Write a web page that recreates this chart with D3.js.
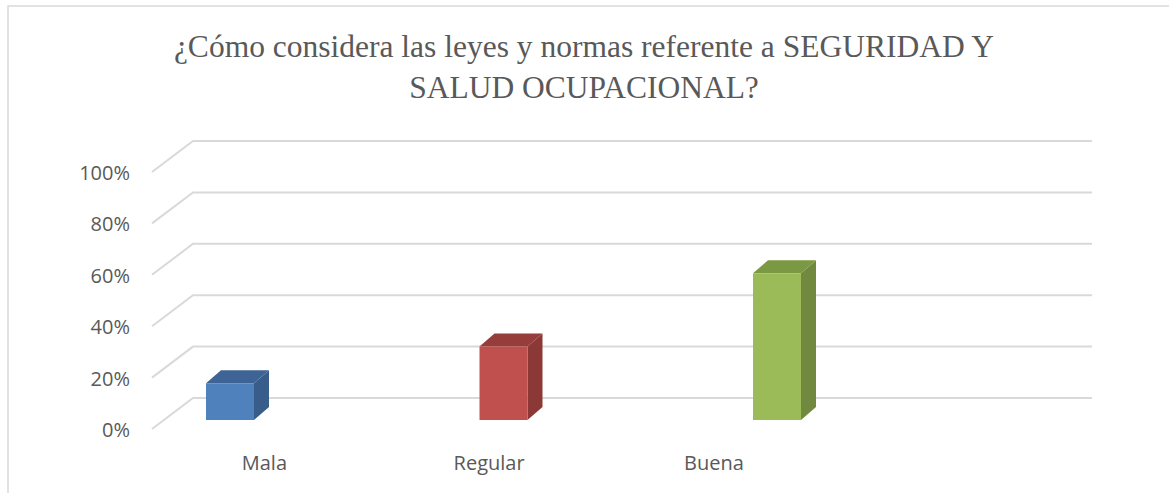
<!DOCTYPE html>
<html>
<head>
<meta charset="utf-8">
<script src="https://cdn.jsdelivr.net/npm/d3@7"></script>
<style>
  html, body { margin: 0; padding: 0; background: #fff; }
  svg { display: block; }
</style>
</head>
<body>
<div id="chart"></div>
<script>
// datos del gráfico
const categories = ['Mala', 'Regular', 'Buena'];
const values = [0.143, 0.286, 0.571];
const yTicks = [0, 0.2, 0.4, 0.6, 0.8, 1];
const titleLines = ['¿Cómo considera las leyes y normas referente a SEGURIDAD Y', 'SALUD OCUPACIONAL?'];

const frontColors = ['#4f81bd', '#c0504d', '#9bbb59'];
const sideColors = ['#385d8a', '#8c3836', '#71893f'];
const topColors = ['#3d6494', '#963c3a', '#7a9942'];

const width = 1169, height = 493;

// profundidad del plano (perspectiva 3D)
const depth = { dx: 41, dy: -31 };
const barDepth = { front: -9, dx: 15, dy: -13 };

const svg = d3.select('#chart')
  .append('svg')
  .attr('width', width)
  .attr('height', height);

// borde del área del gráfico
svg.append('rect')
  .attr('x', 8).attr('y', 6)
  .attr('width', 1170).attr('height', 500)
  .attr('fill', 'none')
  .attr('stroke', '#d9d9d9')
  .attr('stroke-width', 1.5);

// escalas
const y = d3.scaleLinear().domain([0, 1]).range([429, 172]);
const xFront = 152, xBackEnd = 1092;

const xBar = d3.scalePoint()
  .domain(categories)
  .range([230, 777]);

const xLabel = d3.scaleBand()
  .domain(categories.concat(['']))
  .range([xFront, xBackEnd - depth.dx]);

// líneas de cuadrícula (diagonal + horizontal)
svg.append('g')
  .selectAll('path')
  .data(yTicks)
  .enter().append('path')
  .attr('d', d => {
    const y0 = y(d);
    return `M${xFront},${y0}L${xFront + depth.dx},${y0 + depth.dy}L${xBackEnd},${y0 + depth.dy}`;
  })
  .attr('fill', 'none')
  .attr('stroke', '#d9d9d9')
  .attr('stroke-width', 2);

// etiquetas del eje Y
svg.append('g')
  .selectAll('text')
  .data(yTicks)
  .enter().append('text')
  .attr('x', 130)
  .attr('y', d => y(d) + 1)
  .attr('dy', '0.35em')
  .attr('text-anchor', 'end')
  .attr('font-family', 'Open Sans, sans-serif')
  .attr('font-size', 20)
  .attr('fill', '#595959')
  .text(d3.format('.0%'));

// barras 3D
const barW = 48;
const bars = svg.append('g')
  .selectAll('g')
  .data(values)
  .enter().append('g');

bars.append('path') // lado derecho
  .attr('d', (d, i) => {
    const x1 = xBar(categories[i]) + barW / 2;
    const yb = y(0) + barDepth.front, yt = y(d) + barDepth.front;
    return `M${x1},${yb}L${x1},${yt}L${x1 + barDepth.dx},${yt + barDepth.dy}L${x1 + barDepth.dx},${yb + barDepth.dy}Z`;
  })
  .attr('fill', (d, i) => sideColors[i]);

bars.append('path') // cara superior
  .attr('d', (d, i) => {
    const x0 = xBar(categories[i]) - barW / 2, x1 = x0 + barW;
    const yt = y(d) + barDepth.front;
    return `M${x0},${yt}L${x0 + barDepth.dx},${yt + barDepth.dy}L${x1 + barDepth.dx},${yt + barDepth.dy}L${x1},${yt}Z`;
  })
  .attr('fill', (d, i) => topColors[i]);

bars.append('rect') // cara frontal
  .attr('x', (d, i) => xBar(categories[i]) - barW / 2)
  .attr('y', d => y(d) + barDepth.front)
  .attr('width', barW)
  .attr('height', d => y(0) - y(d))
  .attr('fill', (d, i) => frontColors[i]);

// etiquetas de categorías
svg.append('g')
  .selectAll('text')
  .data(categories)
  .enter().append('text')
  .attr('x', d => xLabel(d) + xLabel.bandwidth() / 2)
  .attr('y', 470)
  .attr('text-anchor', 'middle')
  .attr('font-family', 'Open Sans, sans-serif')
  .attr('font-size', 20)
  .attr('fill', '#595959')
  .text(d => d);

// título
svg.append('g')
  .selectAll('text')
  .data(titleLines)
  .enter().append('text')
  .attr('x', 584)
  .attr('y', (d, i) => 57 + i * 41)
  .attr('text-anchor', 'middle')
  .attr('font-family', 'Liberation Serif, Times New Roman, serif')
  .attr('font-size', 31.5)
  .attr('fill', '#595959')
  .text(d => d);
</script>
</body>
</html>
